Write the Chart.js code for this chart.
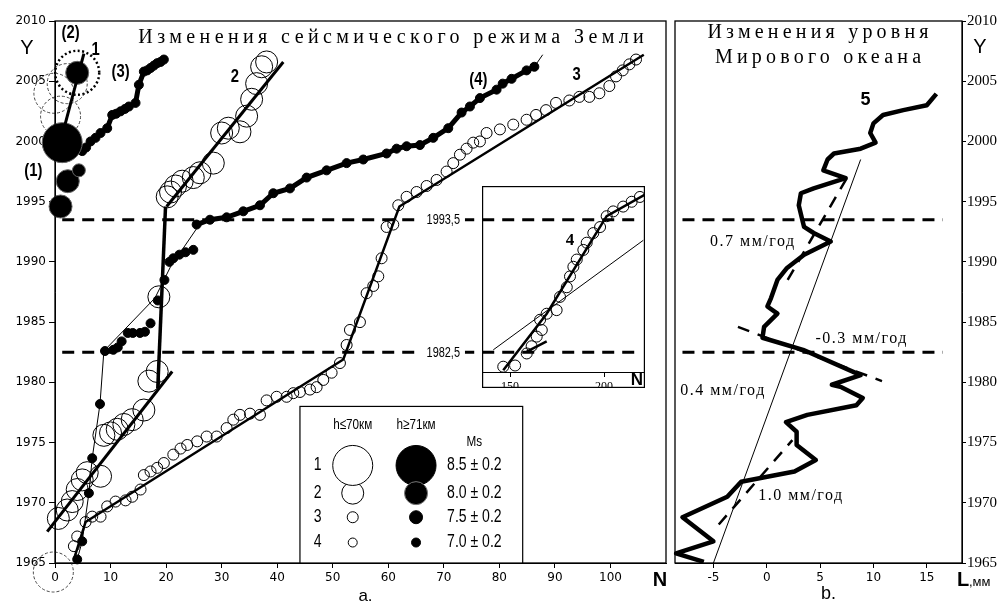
<!DOCTYPE html>
<html><head><meta charset="utf-8">
<script src="https://cdn.jsdelivr.net/npm/chart.js@4.4.1/dist/chart.umd.min.js"></script>
<style>
html,body{margin:0;padding:0;background:#fff;width:1003px;height:608px;overflow:hidden}
canvas{position:absolute;display:block}
#ca{left:0;top:0}
#cb{left:670px;top:0}
#ci{left:482px;top:186px}
</style></head><body>
<canvas id="ca" width="670" height="608"></canvas>
<canvas id="cb" width="333" height="608"></canvas>
<canvas id="ci" width="163" height="202"></canvas>
<script>
// ================= DATA =================
const YEAR_TICKS=[1965,1970,1975,1980,1985,1990,1995,2000,2005,2010];
const N_TICKS=[0,10,20,30,40,50,60,70,80,90,100];
const L_TICKS=[-5,0,5,10,15];
const INSET_TICKS=[150,200];
const BREAK_YEARS=[1993.5,1982.5];
const BREAK_LABELS=['1993,5','1982,5'];
const BREAK_N=[1.3,104.8];
const BREAK_L=[-7.9,16.5];

// groups (1),(2): strongest events near N≈0
const G1_OPEN_N=[1.0,-0.2,2.2,-0.3];
const G1_OPEN_Y=[2002.1,2004.0,2004.8,1964.25];
const G1_OPEN_CLASS=[1,1,1,1];
const G2_RING_N=[4.0];
const G2_RING_Y=[2005.7];
const G1_FILL_N=[4.0,1.3,1.0,2.3,4.3];
const G1_FILL_Y=[2005.7,1999.9,1994.6,1996.7,1997.6];
const G1_FILL_CLASS=[2,1,2,2,3];
const LINE1_N=[1.0,5.2];
const LINE1_Y=[2000.0,2007.3];

// (3) deep events chain
const S3D_N=[4.9,5.6,6.4,7.3,8.2,9.4,10.3,11.0,11.8,12.6,13.3,14.5,15.1,16.0,16.6,17.2,17.8,18.4,19.0,19.6];
const S3D_Y=[1999.2,1999.5,2000.0,2000.3,2000.7,2001.1,2002.2,2002.3,2002.5,2002.7,2002.9,2003.2,2004.7,2005.8,2005.9,2006.1,2006.3,2006.5,2006.6,2006.8];

// (4) deep events
const S4_LOW_N=[4.0,4.9,6.1,6.7,8.1,9.0,10.5,11.3,12.0,13.1,14.0,15.3,16.2,17.2,18.5,19.7,20.6,21.3,22.4,23.5,24.9];
const S4_LOW_Y=[1965.3,1966.8,1970.8,1973.7,1978.2,1982.6,1982.7,1982.9,1983.4,1984.1,1984.1,1984.1,1984.2,1984.9,1986.8,1988.5,1990.0,1990.3,1990.6,1990.8,1991.0];
const S4_UP_N=[25.5,27.9,30.9,33.9,36.9,39.3,42.3,45.3,48.9,52.5,55.5,59.7,61.5,63.3,65.7,68.1,70.8,73.2,74.7,76.5,79.5,80.6,82.2,84.9,86.3];
const S4_UP_Y=[1993.1,1993.5,1993.7,1994.2,1994.7,1995.7,1996.1,1997.0,1997.6,1998.2,1998.5,1999.0,1999.4,1999.6,1999.7,2000.3,2001.1,2002.4,2002.9,2003.6,2004.3,2004.8,2005.2,2005.9,2006.2];
const FIT4_N=[4.0,4.9,6.1,6.7,8.1,8.8,18.0,20.8,26.0];
const FIT4_Y=[1965.3,1966.8,1970.8,1973.7,1978.2,1982.6,1987.0,1989.6,1993.1];
const FIT4_TAIL_N=[86.3,87.8];
const FIT4_TAIL_Y=[2006.2,2007.2];

// series 2 (shallow, Ms 8.0)
const S2_N=[0.6,2.2,3.1,4.0,4.9,5.8,8.2,8.8,10.0,11.2,12.4,13.9,16.0,16.9,18.4,18.7,20.2,20.8,21.7,22.9,24.9,26.1,28.5,30.0,31.2,33.3,34.5,35.4,36.3,37.2,38.1];
const S2_Y=[1968.7,1969.4,1970.1,1971.1,1971.9,1972.5,1972.2,1975.6,1975.8,1976.1,1976.5,1976.9,1977.7,1980.1,1980.9,1987.1,1995.4,1995.8,1996.3,1996.7,1997.0,1997.4,1998.2,2000.7,2001.1,2000.8,2002.1,2003.5,2004.8,2006.2,2006.6];
const FIT2A_N=[-1.4,21.1], FIT2A_Y=[1967.6,1980.9];
const FIT2B_N=[18.5,19.9], FIT2B_Y=[1979.5,1994.6];
const FIT2C_N=[20.1,41.1], FIT2C_Y=[1994.6,2006.6];

// series 3 (shallow, Ms 7.5)
const S3_N=[3.4,4.0,5.5,6.7,8.2,9.4,10.9,12.7,13.9,15.4,16.0,17.2,18.4,19.6,21.3,22.6,23.8,25.6,27.3,29.1,30.9,32.1,33.3,35.1,36.9,38.1,39.9,41.7,42.9,44.1,45.9,47.1,48.3,49.8,51.3,52.5,53.1,54.9,56.1,57.3,58.2,58.8,59.7,60.9,61.8,63.3,65.1,66.9,68.7,70.5,71.7,72.9,74.1,75.3,76.5,77.7,80.1,82.5,84.9,86.6,88.4,90.2,92.6,94.4,96.2,98.0,99.8,101.0,102.2,103.4,104.6];
const S3_Y=[1966.4,1967.2,1968.4,1968.85,1968.85,1969.7,1970.1,1970.2,1970.5,1971.1,1972.3,1972.6,1972.9,1973.3,1974.0,1974.5,1974.8,1975.1,1975.5,1975.5,1976.2,1976.9,1977.3,1977.4,1977.3,1978.5,1978.8,1978.8,1979.1,1979.2,1979.4,1979.6,1980.2,1980.8,1981.6,1983.1,1984.35,1985.0,1987.4,1988.0,1988.8,1990.3,1992.9,1993.1,1994.7,1995.4,1995.8,1996.3,1996.8,1997.5,1998.2,1998.9,1999.4,1999.9,2000.0,2000.7,2001.0,2001.4,2001.8,2002.2,2002.6,2003.2,2003.4,2003.7,2003.7,2004.0,2004.6,2005.4,2005.9,2006.4,2006.8];
const FIT3_N=[3.4,5.5,51.9,62.0,106.0];
const FIT3_Y=[1965.3,1968.4,1981.9,1994.6,2007.2];

// inset: series 4 (Ms 7.0)
const IN_N=[146.4,152.7,158.9,161.5,164.2,166.9,166.0,169.5,174.8,176.6,180.2,181.9,183.7,185.5,189.0,190.8,194.3,197.9,201.4,204.9,210.2,214.7,219.1];
const IN_Y=[1981.3,1981.4,1982.4,1983.0,1983.8,1984.35,1985.2,1985.7,1986.0,1987.1,1987.9,1988.8,1989.6,1990.2,1991.0,1991.6,1992.4,1992.9,1993.8,1994.2,1994.6,1995.0,1995.4];
const IN_FIT_N=[146.4,169.5,201.4,221.8], IN_FIT_Y=[1981.0,1985.7,1993.8,1995.6];
const IN_THIN_N=[141.1,220.9], IN_THIN_Y=[1982.7,1991.8];
const IN_SHORT_N=[158.9,169.5], IN_SHORT_Y=[1982.55,1983.4];

// panel b: sea level L (mm) vs year
const S5_L=[-5.9,-8.5,-5.0,-7.9,-3.7,-2.4,2.6,4.6,2.8,2.8,1.8,3.8,8.4,9.0,7.0,6.1,8.8,3.4,-0.4,-0.25,1.0,0.06,0.4,1.0,1.9,3.5,6.0,4.4,3.5,3.3,3.0,3.2,4.4,7.4,5.3,5.7,6.3,8.8,10.2,9.7,10.0,10.9,12.8,15.0,15.9];
const S5_Y=[1965.1,1965.8,1966.8,1968.8,1970.5,1971.75,1972.6,1973.55,1974.8,1975.9,1976.7,1977.3,1978.1,1978.7,1979.6,1979.8,1980.6,1982.7,1983.7,1984.6,1985.7,1986.3,1987.0,1988.5,1989.5,1990.6,1991.7,1992.4,1992.9,1993.6,1994.7,1995.7,1996.1,1996.95,1997.6,1998.5,1999.0,1999.4,1999.9,2000.7,2001.5,2002.2,2002.6,2003.0,2003.95];
const TREND04_L=[-5.0,8.8], TREND04_Y=[1965.0,1998.5];
const FIT10_L=[-4.5,2.4], FIT10_Y=[1968.2,1975.2];
const FIT07_L=[1.96,7.66], FIT07_Y=[1988.5,1997.2];
const FITM03_L=[-2.7,10.8], FITM03_Y=[1984.6,1980.1];

// legend content
const LEGEND_CLASSES=[1,2,3,4];
const LEGEND_MS=['8.5 ± 0.2','8.0 ± 0.2','7.5 ± 0.2','7.0 ± 0.2'];

// ================= STYLE =================
const F_SANS="'Liberation Sans',Arial,sans-serif";
const F_SERIF="'Liberation Serif','Times New Roman',serif";
const F_TICK="'DejaVu Sans',sans-serif";
const NARROW=0.78;
const RAD_OPEN={1:20,2:11,3:5.5,4:4.5};
const RAD_FILL={1:20,2:11.5,3:6.5,4:4.5};
const CLEAR='rgba(0,0,0,0)';

const P=(xs,ys)=>xs.map((x,i)=>({x,y:ys[i]}));
const rad=(map,cls)=>typeof cls==='number'?map[cls]:(c=>map[cls[c.dataIndex]]);
function pts(data,cls,filled,extra){
  const map=filled?RAD_FILL:RAD_OPEN;
  return Object.assign({data,showLine:false,clip:false,pointRadius:rad(map,cls),pointHoverRadius:rad(map,cls),
    pointBackgroundColor:filled?'#000':CLEAR,pointBorderColor:'#000',pointBorderWidth:1},extra||{});
}
function line(data,w,extra){
  return Object.assign({data,showLine:true,clip:false,borderColor:'#000',borderWidth:w,pointRadius:0,pointHoverRadius:0,tension:0,fill:false,borderCapStyle:'butt'},extra||{});
}
function txt(ctx,s,x,y,font,opt){
  opt=opt||{};
  ctx.save();ctx.font=font;ctx.fillStyle=opt.color||'#000';
  ctx.textAlign=opt.align||'center';ctx.textBaseline=opt.base||'middle';
  if(opt.ls&&('letterSpacing' in ctx))ctx.letterSpacing=opt.ls+'px';
  ctx.translate(x,y);
  if(opt.sx)ctx.scale(opt.sx,1);
  ctx.fillText(s,0,0);ctx.restore();
}
const dashPoints={id:'dashPoints',
  beforeDatasetDraw(chart,args){const ds=chart.data.datasets[args.index];if(ds.pointDash){chart.ctx.save();chart.ctx.setLineDash(ds.pointDash);}},
  afterDatasetDraw(chart,args){const ds=chart.data.datasets[args.index];if(ds.pointDash){chart.ctx.restore();}}};

function yScale(min,max,pos,font,width,tickLen,pad){
  return {type:'linear',min,max,position:pos,
    afterBuildTicks:s=>{s.ticks=YEAR_TICKS.map(v=>({value:v}));},
    afterFit:s=>{s.width=width;},
    grid:{drawOnChartArea:false,drawTicks:true,tickLength:tickLen,color:'#000',tickColor:'#000'},
    border:{display:true,color:'#000',width:1},
    ticks:{color:'#000',font,padding:pad,callback:v=>String(v),autoSkip:false}};
}
function xScale(min,max,tickArr,font,height){
  return {type:'linear',min,max,position:'bottom',
    afterBuildTicks:s=>{s.ticks=tickArr.map(v=>({value:v}));},
    afterFit:s=>{s.height=height;},
    grid:{drawOnChartArea:false,drawTicks:true,tickLength:5,color:'#000',tickColor:'#000'},
    border:{display:true,color:'#000',width:1},
    ticks:{color:'#000',font,padding:3,callback:v=>String(v),autoSkip:false,maxRotation:0}};
}
const baseOpts={responsive:false,animation:false,events:[],plugins:{legend:{display:false},tooltip:{enabled:false}}};
const layout=p=>({autoPadding:false,padding:p});

// ================= PANEL a =================
const BREAK_DASH=[12,8];
const leftDatasets=[
  line(P(BREAK_N,[BREAK_YEARS[0],BREAK_YEARS[0]]),3,{borderDash:BREAK_DASH,order:9}),
  line(P(BREAK_N,[BREAK_YEARS[1],BREAK_YEARS[1]]),3,{borderDash:BREAK_DASH,order:9}),
  pts(P(G1_OPEN_N,G1_OPEN_Y),G1_OPEN_CLASS,false,{pointBorderColor:'#444',pointDash:[3,2],order:8}),
  pts(P(G2_RING_N,G2_RING_Y),1,false,{pointRadius:22,pointBorderWidth:2.5,pointDash:[2,2.5],order:8}),
  pts(P(S2_N,S2_Y),2,false,{order:7}),
  pts(P(S3_N,S3_Y),3,false,{order:6}),
  line(P(FIT2A_N,FIT2A_Y),3,{order:5}),
  line(P(FIT2B_N,FIT2B_Y),3.5,{order:5}),
  line(P(FIT2C_N,FIT2C_Y),3,{order:5}),
  line(P(FIT3_N,FIT3_Y),2.5,{order:5}),
  line(P(FIT4_N,FIT4_Y),1,{order:5}),
  line(P(FIT4_TAIL_N,FIT4_TAIL_Y),1,{order:5}),
  pts(P(S4_LOW_N,S4_LOW_Y),4,true,{order:4}),
  pts(P(S4_UP_N,S4_UP_Y),4,true,{showLine:true,borderColor:'#000',borderWidth:5,order:4}),
  pts(P(S3D_N,S3D_Y),4,true,{showLine:true,borderColor:'#000',borderWidth:5,order:4}),
  pts(P(G1_FILL_N,G1_FILL_Y),G1_FILL_CLASS,true,{pointBorderColor:'#666',order:3}),
  line(P(LINE1_N,LINE1_Y),3,{order:2})
];
const LABELS_A=[
  {s:'(2)',n:2.8,y:2009.0},{s:'1',n:7.3,y:2007.6},{s:'(1)',n:-3.9,y:1997.6},{s:'(3)',n:11.8,y:2005.8},
  {s:'2',n:32.4,y:2005.4},{s:'(4)',n:76.2,y:2005.1},{s:'3',n:93.9,y:2005.5}];
const BREAK_LABEL_N=69.9;
const LEGEND={n0:44.1,n1:84.2,yTop:1978.0,colNum:47.3,colOpen:53.6,colFill:65.0,colMs:75.5,rowHead:1976.5,rowMs:1975.05,rows:[1973.1,1970.8,1968.8,1966.7]};
const TITLE_A={s:'Изменения сейсмического режима Земли',n:60.9,y:2008.19};

const leftDecor={id:'leftDecor',afterDraw(chart){
  const {ctx,chartArea:a,scales:{x,y}}=chart;
  const X=v=>x.getPixelForValue(v),Y=v=>y.getPixelForValue(v);
  ctx.save();
  ctx.strokeStyle='#000';ctx.lineWidth=1.3;
  ctx.strokeRect(a.left,a.top,a.right-a.left,a.bottom-a.top);
  BREAK_YEARS.forEach((yr,i)=>{
    ctx.font='14px '+F_SANS;
    const w=ctx.measureText(BREAK_LABELS[i]).width*NARROW;
    ctx.fillStyle='#fff';ctx.fillRect(X(BREAK_LABEL_N)-w/2-5,Y(yr)-7,w+10,14);
    txt(ctx,BREAK_LABELS[i],X(BREAK_LABEL_N),Y(yr)+0.5,'14px '+F_SANS,{sx:NARROW});
  });
  const L=LEGEND;
  const lx0=X(L.n0),lx1=X(L.n1),ly0=Y(L.yTop);
  ctx.fillStyle='#fff';ctx.fillRect(lx0,ly0,lx1-lx0,a.bottom-ly0);
  ctx.strokeStyle='#000';ctx.lineWidth=1.2;ctx.strokeRect(lx0,ly0,lx1-lx0,a.bottom-ly0);
  txt(ctx,'h≤70км',X(L.colOpen),Y(L.rowHead),'15px '+F_SANS,{sx:NARROW});
  txt(ctx,'h≥71км',X(L.colFill),Y(L.rowHead),'15px '+F_SANS,{sx:NARROW});
  txt(ctx,'Ms',X(L.colMs),Y(L.rowMs),'15px '+F_SANS,{sx:NARROW});
  for(let i=LEGEND_CLASSES.length-1;i>=0;i--){
    const c=LEGEND_CLASSES[i],yy=Y(L.rows[i]);
    txt(ctx,String(c),X(L.colNum),yy,'18px '+F_SANS,{sx:NARROW});
    ctx.beginPath();ctx.arc(X(L.colOpen),yy,RAD_OPEN[c],0,Math.PI*2);
    ctx.fillStyle='#fff';ctx.fill();ctx.strokeStyle='#000';ctx.lineWidth=1;ctx.stroke();
    txt(ctx,LEGEND_MS[i],X(L.colMs),yy,'18px '+F_SANS,{sx:NARROW});
  }
  for(let i=0;i<LEGEND_CLASSES.length;i++){
    const c=LEGEND_CLASSES[i],yy=Y(L.rows[i]);
    ctx.beginPath();ctx.arc(X(L.colFill),yy,RAD_FILL[c],0,Math.PI*2);
    ctx.fillStyle='#000';ctx.fill();ctx.strokeStyle=i===1?'#777':'#000';ctx.lineWidth=1;ctx.stroke();
  }
  LABELS_A.forEach(t=>txt(ctx,t.s,X(t.n),Y(t.y),'bold 19px '+F_SANS,{sx:NARROW}));
  txt(ctx,TITLE_A.s,X(TITLE_A.n),Y(TITLE_A.y),'20px '+F_SERIF,{base:'alphabetic',ls:4.4});
  txt(ctx,'Y',a.left-28,a.top+27,'20px '+F_SANS);
  txt(ctx,'N',a.right-6,a.bottom+17,'bold 20px '+F_SANS);
  txt(ctx,'a.',(a.left+a.right)/2+5,a.bottom+33,'17px '+F_SANS);
  ctx.restore();
}};

new Chart(document.getElementById('ca'),{type:'scatter',data:{datasets:leftDatasets},
  options:Object.assign({},baseOpts,{layout:layout({left:0,right:4,top:21,bottom:0}),
    scales:{x:xScale(0,110,N_TICKS,{family:F_TICK,size:12},45),
            y:yScale(1965,2010,'left',{family:F_TICK,size:12},55,6,3)}}),
  plugins:[dashPoints,leftDecor]});

// ================= INSET =================
const insetDatasets=[
  pts(P(IN_N,IN_Y),3,false,{order:3}),
  line(P(IN_THIN_N,IN_THIN_Y),1,{order:2}),
  line(P(IN_FIT_N,IN_FIT_Y),2.5,{order:1}),
  line(P(IN_SHORT_N,IN_SHORT_Y),2.5,{order:1})
];
const insetDecor={id:'insetDecor',afterDraw(chart){
  const {ctx,chartArea:a,scales:{x,y}}=chart;
  ctx.save();ctx.strokeStyle='#000';ctx.lineWidth=1.2;
  ctx.strokeRect(0.6,0.6,chart.width-1.2,chart.height-1.2);
  txt(ctx,'4',x.getPixelForValue(181.9),y.getPixelForValue(1991.8),'bold 17px '+F_SERIF);
  txt(ctx,'N',a.right-8,a.bottom+8,'bold 17px '+F_SANS);
  ctx.restore();
}};
new Chart(document.getElementById('ci'),{type:'scatter',data:{datasets:insetDatasets},
  options:Object.assign({},baseOpts,{layout:layout(0),
    scales:{x:xScale(135.1,221.8,INSET_TICKS,{family:F_SERIF,size:12},16),
            y:{type:'linear',display:false,min:1980.86,max:1996.31}}}),
  plugins:[insetDecor]});

// ================= PANEL b =================
const RATE_DASH=[12,9];
const rightDatasets=[
  line(P(BREAK_L,[BREAK_YEARS[0],BREAK_YEARS[0]]),3,{borderDash:BREAK_DASH,order:6}),
  line(P(BREAK_L,[BREAK_YEARS[1],BREAK_YEARS[1]]),3,{borderDash:BREAK_DASH,order:6}),
  line(P(TREND04_L,TREND04_Y),1,{order:5}),
  line(P(S5_L,S5_Y),4.5,{borderJoinStyle:'round',order:4}),
  line(P(FIT10_L,FIT10_Y),2.5,{borderDash:RATE_DASH,order:3}),
  line(P(FIT07_L,FIT07_Y),2.5,{borderDash:RATE_DASH,order:3}),
  line(P(FITM03_L,FITM03_Y),2.5,{borderDash:RATE_DASH,order:3})
];
const LABELS_B=[
  {s:'0.7 мм/год',l:-1.3,y:1991.66},{s:'-0.3 мм/год',l:8.9,y:1983.6},
  {s:'0.4 мм/год',l:-4.1,y:1979.3},{s:'1.0 мм/год',l:3.2,y:1970.6}];
const TITLE_B=[{s:'Изменения уровня',l:5.0,y:2008.6},{s:'Мирового океана',l:5.0,y:2006.53}];
const rightDecor={id:'rightDecor',afterDraw(chart){
  const {ctx,chartArea:a,scales:{x,y}}=chart;
  const X=v=>x.getPixelForValue(v),Y=v=>y.getPixelForValue(v);
  ctx.save();ctx.strokeStyle='#000';ctx.lineWidth=1.3;
  ctx.strokeRect(a.left,a.top,a.right-a.left,a.bottom-a.top);
  LABELS_B.forEach(t=>txt(ctx,t.s,X(t.l),Y(t.y),'16px '+F_SERIF,{ls:1.5}));
  TITLE_B.forEach(t=>txt(ctx,t.s,X(t.l),Y(t.y),'20px '+F_SERIF,{base:'alphabetic',ls:4.2}));
  txt(ctx,'5',X(9.25),Y(2003.4),'bold 18px '+F_SANS);
  txt(ctx,'Y',a.right+18,a.top+26,'20px '+F_SANS);
  txt(ctx,'L',a.right+1,a.bottom+17,'bold 20px '+F_SANS,{align:'center'});
  txt(ctx,',мм',a.right+7,a.bottom+19,'13px '+F_SANS,{align:'left'});
  txt(ctx,'b.',(a.left+a.right)/2+10,a.bottom+31,'18px '+F_SANS);
  ctx.restore();
}};
new Chart(document.getElementById('cb'),{type:'scatter',data:{datasets:rightDatasets},
  options:Object.assign({},baseOpts,{layout:layout({left:5,right:0,top:21,bottom:0}),
    scales:{x:xScale(-8.6,18.3,L_TICKS,{family:F_TICK,size:12},45),
            y:yScale(1965,2010,'right',{family:F_SERIF,size:15},41,4,1)}}),
  plugins:[rightDecor]});
</script></body></html>
